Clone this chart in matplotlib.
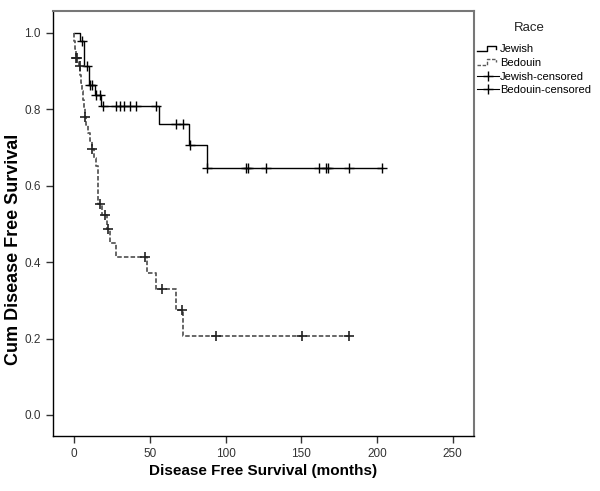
import matplotlib.pyplot as plt
import numpy as np
from matplotlib.legend_handler import HandlerBase
from matplotlib.lines import Line2D

plt.rcParams['font.family'] = ['Liberation Sans', 'DejaVu Sans']

########## DATOS ############################
# Jewish: tiempos de evento (meses) y supervivencia tras cada evento
jew_t = [0, 3.8, 6.8, 9.9, 13.7, 18.0, 56.0, 76.0, 87.5]
jew_s = [1.0, 0.980, 0.913, 0.863, 0.838, 0.808, 0.763, 0.708, 0.647]
jew_end = 203.5
jew_cens = [5.3, 8.4, 10.8, 11.6, 14.8, 17.0, 19.2, 27.5, 30.2, 32.8, 37.2,
            41.2, 54.4, 67.0, 72.0, 76.4, 87.8, 113.8, 115.0, 126.5, 161.7,
            166.0, 167.6, 181.5, 203.5]

# Bedouin
bed_t = [0, 0.3, 0.8, 1.2, 3.0, 4.0, 4.6, 5.2, 5.8, 6.4, 7.0, 8.2, 9.4, 10.6,
         11.8, 13.2, 14.4, 15.8, 18.5, 21.5, 23.5, 28.0, 48.0, 54.4, 67.1, 72.0]
bed_s = [1.0, 0.978, 0.957, 0.935, 0.913, 0.891, 0.869, 0.847, 0.825, 0.803,
         0.781, 0.760, 0.738, 0.717, 0.695, 0.673, 0.651, 0.553, 0.524, 0.487,
         0.450, 0.414, 0.372, 0.330, 0.276, 0.208]
bed_end = 181.5
bed_cens = [1.5, 2.2, 3.8, 7.1, 12.1, 17.0, 20.3, 22.5, 47.1, 58.3, 71.5,
            93.5, 150.7, 181.5]

x_ticks = [0, 50, 100, 150, 200, 250]
y_ticks = [0.0, 0.2, 0.4, 0.6, 0.8, 1.0]

jew_color = 'black'
bed_color = '#5a5a5a'
bed_dash = (0, (2.5, 1.2))


def surv_at(t_ev, s_ev, t):
    idx = np.searchsorted(t_ev, t, side='right') - 1
    return np.asarray(s_ev)[idx]


class StepHandler(HandlerBase):
    def __init__(self, style, color):
        super().__init__()
        self.style = style
        self.color = color

    def create_artists(self, legend, orig_handle, xdescent, ydescent,
                       width, height, fontsize, trans):
        x = np.array([0, 0.45, 0.45, 0.85, 0.85]) * width - xdescent
        y = np.array([0.15, 0.15, 0.85, 0.85, 0.45]) * height - ydescent
        ln = Line2D(x, y, color=self.color, linestyle=self.style, lw=1,
                    transform=trans)
        return [ln]


fig = plt.figure(figsize=(6, 4.91), dpi=100)
ax = fig.add_axes([0.088, 0.112, 0.702, 0.866])

# curvas escalonadas
ax.step(list(jew_t) + [jew_end], list(jew_s) + [jew_s[-1]], where='post',
        color=jew_color, lw=1)
ax.step(list(bed_t) + [bed_end], list(bed_s) + [bed_s[-1]], where='post',
        color=bed_color, lw=1.3, linestyle=bed_dash)

# censurados
ax.plot(jew_cens, surv_at(jew_t, jew_s, jew_cens), linestyle='none',
        marker='+', ms=7, mew=1, color='black')
ax.plot(bed_cens, surv_at(bed_t, bed_s, bed_cens), linestyle='none',
        marker='+', ms=7, mew=1.2, color='#222222')

ax.set_xlim(-14, 264)
ax.set_ylim(-0.055, 1.058)
ax.set_xticks(x_ticks)
ax.set_yticks(y_ticks)
ax.set_yticklabels([f'{v:.1f}' for v in y_ticks])
ax.tick_params(direction='out', length=5, width=1, labelsize=8.5,
               labelcolor='#333333', color='#333333')
for side in ['left', 'bottom']:
    ax.spines[side].set_color('black')
    ax.spines[side].set_linewidth(1)
for side in ['top', 'right']:
    ax.spines[side].set_color('#777777')
    ax.spines[side].set_linewidth(1.5)

ax.set_xlabel('Disease Free Survival (months)', fontsize=11, fontweight='bold',
              labelpad=3)
ax.set_ylabel('Cum Disease Free Survival', fontsize=13, fontweight='bold')
ax.yaxis.set_label_coords(-0.072, 0.44)

# leyenda
fig.text(0.883, 1 - 28 / 491, 'Race', ha='center', va='center', fontsize=9.5,
         color='#222222')
h_jew = Line2D([], [], color=jew_color)
h_bed = Line2D([], [], color=bed_color, linestyle=bed_dash)
h_jc = Line2D([], [], color='black', marker='+', ms=7, lw=0.8)
h_bc = Line2D([], [], color='black', marker='+', ms=7, lw=0.8)
leg = fig.legend([h_jew, h_bed, h_jc, h_bc],
                 ['Jewish', 'Bedouin', 'Jewish-censored', 'Bedouin-censored'],
                 handler_map={h_jew: StepHandler('-', jew_color),
                              h_bed: StepHandler(bed_dash, bed_color)},
                 loc='upper left', bbox_to_anchor=(0.793, 0.912),
                 frameon=False, fontsize=8, handlelength=2.0,
                 handletextpad=0.1, labelspacing=0.33, borderaxespad=0,
                 borderpad=0.1)

fig.savefig('out.png', dpi=100)
